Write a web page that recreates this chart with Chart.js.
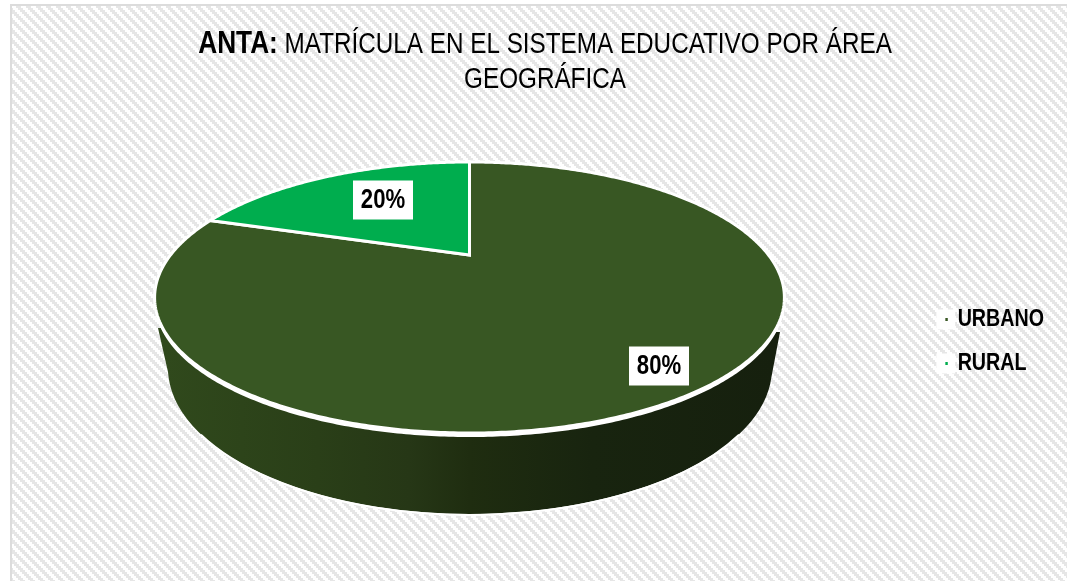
<!DOCTYPE html>
<html lang="es">
<head>
    <meta charset="UTF-8">
    <title>Matrícula por área geográfica</title>
    <script src="https://cdn.jsdelivr.net/npm/chart.js"></script>
    <style>
        html, body { margin: 0; padding: 0; background: #fff; overflow: hidden; }
        canvas { display: block; }
    </style>
</head>
<body>
    <canvas id="pieChart" width="1067" height="581"></canvas>

    <script>
        const categories = ['URBANO', 'RURAL'];
        const matricula = [80, 20];
        const sliceColors = ['#385723', '#00AD4E'];
        const titleBold = 'ANTA:';
        const titleLine1 = ' MATRÍCULA EN EL SISTEMA EDUCATIVO POR ÁREA';
        const titleLine2 = 'GEOGRÁFICA';

        // no narrow face is installed, so the text is squeezed sideways
        const fontFamily = '"Liberation Sans", Arial, sans-serif';
        const squeeze = 0.82;

        // perspective of the pie top: apex, half sizes and tilt
        const apexX = 469.5, apexY = 255, sizeX = 299, sizeY = 122.2, tilt = -0.3136;
        // where each percentage sits along its slice
        const labelRadius = [0.855, 0.6];
        const labelNudge = [[-2, 3], [5, -4]];

        function project(angle, r) {
            const u = r * Math.cos(angle), v = r * Math.sin(angle);
            const w = 1 + tilt * v;
            return [apexX + sizeX * u / w, apexY + sizeY * v / w];
        }

        function tracePie(ctx, start, end, dy) {
            const steps = Math.ceil((end - start) / 0.01);
            ctx.beginPath();
            ctx.moveTo(apexX, apexY + dy);
            for (let i = 0; i <= steps; i++) {
                const p = project(start + (end - start) * i / steps, 1);
                ctx.lineTo(p[0], p[1] + dy);
            }
            ctx.closePath();
        }

        function squeezeAround(ctx, x) {
            ctx.translate(x, 0);
            ctx.scale(squeeze, 1);
            ctx.translate(-x, 0);
        }

        function stripes(ctx) {
            const tile = document.createElement('canvas');
            tile.width = 10;
            tile.height = 10;
            const t = tile.getContext('2d');
            t.fillStyle = '#fff';
            t.fillRect(0, 0, 10, 10);
            t.fillStyle = '#e6e6e6';
            for (let y = 0; y < 10; y++) {
                for (let x = 0; x < 10; x++) {
                    if (((x - (y - y % 2)) % 10 + 10) % 10 < 5) t.fillRect(x, y, 1, 1);
                }
            }
            return ctx.createPattern(tile, 'repeat');
        }

        const backgroundPlugin = {
            id: 'background',
            afterLayout(chart) {
                // squeeze the legend as well, with a pale patch behind each marker
                const legend = chart.legend;
                if (legend.squeezed) return;
                legend.squeezed = true;
                const drawLegend = legend.draw;
                legend.draw = function () {
                    const ctx = chart.ctx;
                    ctx.save();
                    squeezeAround(ctx, 1044);
                    ctx.fillStyle = 'rgba(255,255,255,0.95)';
                    legend.legendHitBoxes.forEach(box => {
                        ctx.fillRect(box.left - 11, box.top + 2, 23, 20);
                    });
                    drawLegend.call(legend);
                    ctx.restore();
                };
            },
            beforeDraw(chart) {
                const ctx = chart.ctx;
                ctx.save();
                ctx.fillStyle = '#fff';
                ctx.fillRect(0, 0, chart.width, chart.height);
                ctx.fillStyle = stripes(ctx);
                ctx.fillRect(12, 6, chart.width - 12, chart.height - 6);
                ctx.fillStyle = '#dcdcdc';
                ctx.fillRect(10, 4, chart.width - 10, 2);
                ctx.fillRect(10, 4, 2, chart.height - 4);

                // title, bold first word then regular
                squeezeAround(ctx, 545);
                ctx.fillStyle = '#000';
                ctx.textBaseline = 'alphabetic';
                ctx.font = 'bold 32px ' + fontFamily;
                const boldWidth = ctx.measureText(titleBold).width;
                ctx.font = '29.6px ' + fontFamily;
                const restWidth = ctx.measureText(titleLine1).width;
                const left = 545 - (boldWidth + restWidth) / 2;
                ctx.fillText(titleLine1, left + boldWidth, 53);
                ctx.textAlign = 'center';
                ctx.fillText(titleLine2, 545, 88);
                ctx.textAlign = 'left';
                ctx.font = 'bold 32px ' + fontFamily;
                ctx.fillText(titleBold, left, 53);
                ctx.restore();
            }
        };

        const pie3dPlugin = {
            id: 'pie3d',
            beforeDatasetDraw(chart, args) {
                const ctx = chart.ctx;
                const arcs = chart.getDatasetMeta(args.index).data;
                ctx.save();

                // side wall
                const wall = ctx.createLinearGradient(165, 0, 775, 0);
                wall.addColorStop(0, '#30491c');
                wall.addColorStop(0.25, '#2a3f18');
                wall.addColorStop(0.4, '#263716');
                wall.addColorStop(0.5, '#1f2d10');
                wall.addColorStop(0.7, '#18240f');
                wall.addColorStop(1, '#16200e');
                ctx.beginPath();
                ctx.moveTo(158, 328);
                ctx.lineTo(168, 372);
                ctx.ellipse(470, 368, 302, 146, 0, Math.PI * 0.98, Math.PI * 0.02, true);
                ctx.lineTo(780, 332);
                ctx.closePath();
                ctx.fillStyle = wall;
                ctx.fill();
                ctx.beginPath();
                ctx.ellipse(470, 368, 302, 147, 0, Math.PI * 0.85, Math.PI * 0.15, true);
                ctx.strokeStyle = '#fff';
                ctx.lineWidth = 2;
                ctx.stroke();

                // white rim under the front edge of the top
                tracePie(ctx, 0, Math.PI * 2, 4);
                ctx.fillStyle = '#fff';
                ctx.fill();

                arcs.forEach(arc => {
                    const { startAngle, endAngle } = arc.getProps(['startAngle', 'endAngle'], true);
                    tracePie(ctx, startAngle, endAngle, 0);
                    ctx.fillStyle = arc.options.backgroundColor;
                    ctx.fill();
                    ctx.strokeStyle = arc.options.borderColor;
                    ctx.lineWidth = arc.options.borderWidth;
                    ctx.lineJoin = 'miter';
                    ctx.stroke();
                });
                ctx.restore();
                return false;
            },
            afterDatasetsDraw(chart) {
                const ctx = chart.ctx;
                const total = matricula.reduce((a, b) => a + b, 0);
                chart.getDatasetMeta(0).data.forEach((arc, i) => {
                    const { startAngle, endAngle } = arc.getProps(['startAngle', 'endAngle'], true);
                    const p = project((startAngle + endAngle) / 2, labelRadius[i]);
                    const x = Math.round(p[0] + labelNudge[i][0]);
                    const y = Math.round(p[1] + labelNudge[i][1]);
                    ctx.save();
                    ctx.fillStyle = '#fff';
                    ctx.fillRect(x - 30, y - 19.5, 60, 39);
                    squeezeAround(ctx, x);
                    ctx.font = 'bold 27px ' + fontFamily;
                    ctx.textAlign = 'center';
                    ctx.textBaseline = 'middle';
                    ctx.fillStyle = '#000';
                    ctx.fillText(Math.round(matricula[i] / total * 100) + '%', x, y + 1);
                    ctx.restore();
                });
            }
        };

        new Chart(document.getElementById('pieChart'), {
            type: 'pie',
            data: {
                labels: categories,
                datasets: [{
                    data: matricula,
                    backgroundColor: sliceColors,
                    borderColor: '#fff',
                    borderWidth: 3
                }]
            },
            options: {
                responsive: false,
                animation: false,
                layout: { padding: { top: 102, right: 13 } },
                plugins: {
                    title: { display: false },
                    tooltip: { enabled: false },
                    legend: {
                        position: 'right',
                        labels: {
                            usePointStyle: true,
                            pointStyle: 'rect',
                            boxWidth: 3,
                            boxHeight: 3,
                            padding: 20,
                            color: '#000',
                            font: { family: fontFamily, size: 24, weight: 'bold' },
                            generateLabels(chart) {
                                return Chart.overrides.pie.plugins.legend.labels.generateLabels(chart)
                                    .map(item => ({ ...item, lineWidth: 0 }));
                            }
                        }
                    }
                }
            },
            plugins: [backgroundPlugin, pie3dPlugin]
        });
    </script>
</body>
</html>
